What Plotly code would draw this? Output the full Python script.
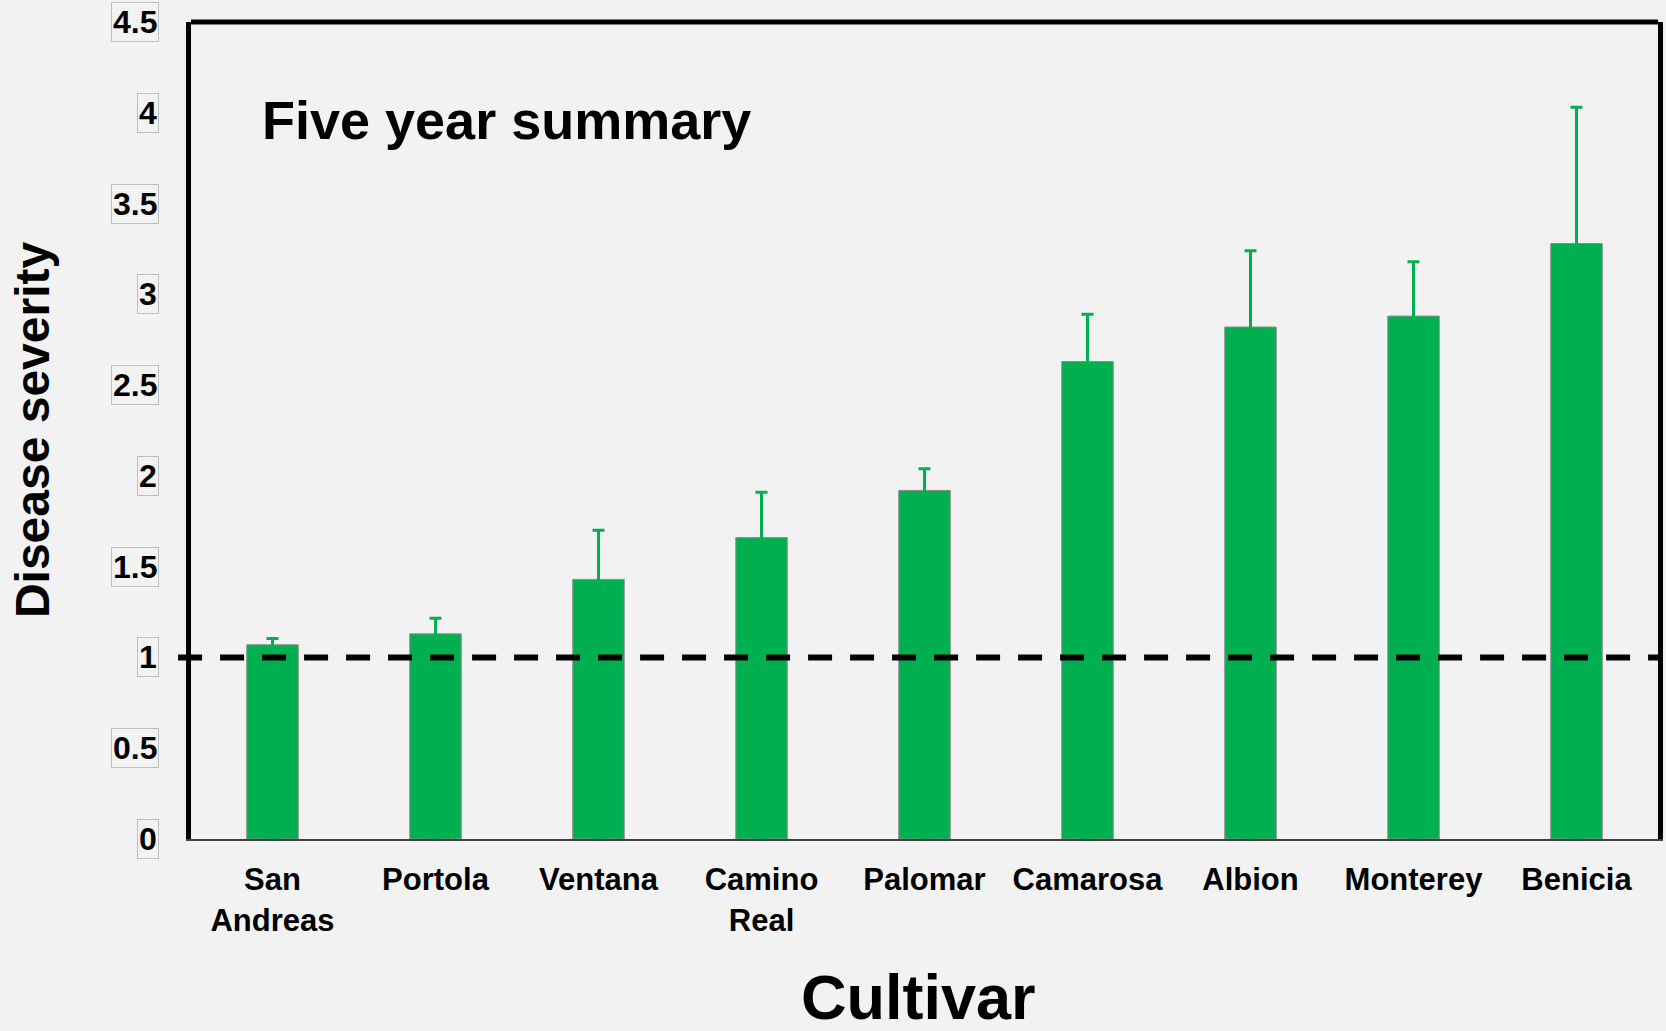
import plotly.graph_objects as go

# Cultivars and their five-year mean disease severity (+ upper error)
cultivars = ["San Andreas", "Portola", "Ventana", "Camino Real", "Palomar",
             "Camarosa", "Albion", "Monterey", "Benicia"]
cultivar_labels = ["San<br>Andreas", "Portola", "Ventana", "Camino<br>Real", "Palomar",
                   "Camarosa", "Albion", "Monterey", "Benicia"]
severity = [1.07, 1.13, 1.43, 1.66, 1.92, 2.63, 2.82, 2.88, 3.28]
error_up = [0.035, 0.086, 0.27, 0.25, 0.12, 0.26, 0.42, 0.30, 0.75]

y_tickvals = [0, 0.5, 1, 1.5, 2, 2.5, 3, 3.5, 4, 4.5]
y_ticktext = ["0", "0.5", "1", "1.5", "2", "2.5", "3", "3.5", "4", "4.5"]
reference_level = 1

GREEN = "#00B050"
FONT = "Liberation Sans, Arial, sans-serif"

fig = go.Figure()

fig.add_trace(go.Bar(
    x=cultivars,
    y=severity,
    width=0.316,
    marker=dict(color=GREEN, line=dict(color="#8C8C8C", width=1)),
    # lower part runs down inside the (same-coloured) bar so no cap shows on the bar top
    error_y=dict(type="data", symmetric=False, array=error_up,
                 arrayminus=severity,
                 color=GREEN, thickness=3, width=6),
    showlegend=False,
))

# dashed reference line at severity = 1
fig.add_shape(type="line", xref="paper", yref="y",
              x0=-0.0088, x1=1, y0=reference_level, y1=reference_level,
              line=dict(color="black", width=6, dash="24px,18px"))

# top border of the frame
fig.add_shape(type="line", xref="paper", yref="paper",
              x0=0, x1=1, y0=1, y1=1,
              line=dict(color="black", width=5))

annotations = []
# boxed y tick labels
for v, t in zip(y_tickvals, y_ticktext):
    annotations.append(dict(
        x=-0.0217, xref="paper", y=v, yref="y",
        xanchor="right", yanchor="middle", text=t, showarrow=False,
        font=dict(family=FONT, size=32, color="black", weight="bold"),
        bordercolor="#BFBFBF", borderwidth=1, borderpad=1,
    ))

annotations.append(dict(
    x=0.0473, xref="paper", y=0.88, yref="paper",
    xanchor="left", yanchor="middle", text="Five year summary", showarrow=False,
    font=dict(family=FONT, size=54, color="black", weight="bold"),
))
annotations.append(dict(
    x=-0.1081, xref="paper", y=0.501, yref="paper",
    xanchor="center", yanchor="middle", text="Disease severity", showarrow=False,
    textangle=-90,
    font=dict(family=FONT, size=48, color="black", weight="bold"),
))
annotations.append(dict(
    x=0.496, xref="paper", y=-0.193, yref="paper",
    xanchor="center", yanchor="middle", text="Cultivar", showarrow=False,
    font=dict(family=FONT, size=63, color="black", weight="bold"),
))

fig.update_layout(
    width=1666, height=1031,
    margin=dict(l=191, r=3, t=22, b=192),
    paper_bgcolor="#F2F2F2",
    plot_bgcolor="#F2F2F2",
    annotations=annotations,
    xaxis=dict(
        tickmode="array", tickvals=cultivars, ticktext=cultivar_labels,
        tickfont=dict(family=FONT, size=31, color="black", weight="bold"),
        showline=True, linecolor="#404040", linewidth=2,
        ticks="outside", ticklen=12, tickcolor="rgba(0,0,0,0)",
        showgrid=False, zeroline=False,
    ),
    yaxis=dict(
        range=[0, 4.5], tickvals=y_tickvals, showticklabels=False,
        showline=True, linecolor="black", linewidth=5, mirror=True,
        showgrid=False, zeroline=False, ticks="",
    ),
)

fig.write_html(
    "out.html",
    config={"displayModeBar": False},
    post_script="document.body.style.margin='0';document.body.style.background='#F2F2F2';",
)
